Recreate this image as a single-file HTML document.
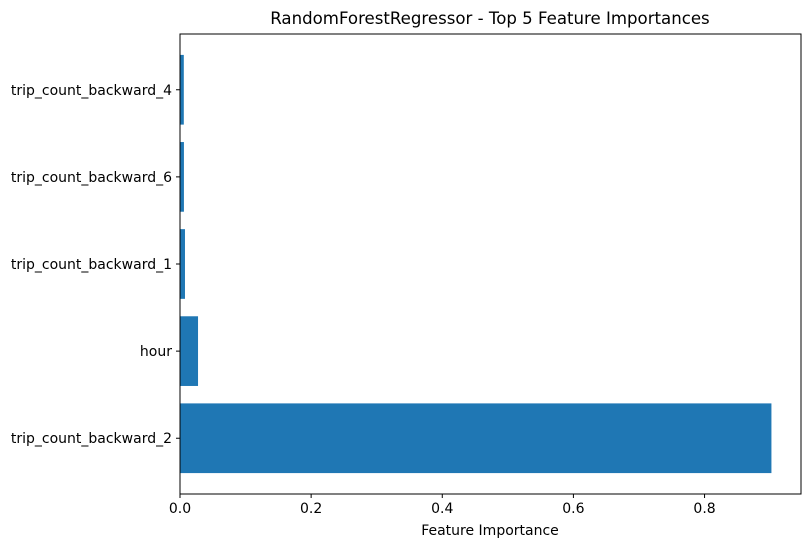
<!DOCTYPE html>
<html><head><meta charset="utf-8"><style>
body{margin:0;background:#fff;}
svg text{font-family:"DejaVu Sans","Liberation Sans",sans-serif;}
</style></head><body>
<svg id="chart" width="810" height="547" xmlns="http://www.w3.org/2000/svg">
<rect width="810" height="547" fill="#fff"/>
<text x="490" y="24" font-size="16.6" text-anchor="middle" fill="#000">RandomForestRegressor - Top 5 Feature Importances</text>
<g id="bars"></g>
<g id="xticks"></g>
<g id="yticks"></g>
<rect x="180" y="34" width="621" height="460" fill="none" stroke="#000" stroke-width="1"/>
<text x="490" y="535" font-size="14" text-anchor="middle" fill="#000">Feature Importance</text>
</svg>
<script>
const categories=["trip_count_backward_2","hour","trip_count_backward_1","trip_count_backward_6","trip_count_backward_4"];
const importances=[0.902,0.0275,0.0076,0.006,0.0058];
const xTickValues=[0,0.2,0.4,0.6,0.8];
const xTickLabels=["0.0","0.2","0.4","0.6","0.8"];

const L=180,R=801,T=34,B=494;
const xMax=Math.max(...importances)*1.05;
const xs=v=>L+(v/xMax)*(R-L);
const yMin=-0.64,yMax=categories.length-1+0.64;
const ys=v=>B-(v-yMin)/(yMax-yMin)*(B-T);
const NS="http://www.w3.org/2000/svg";
const bars=document.getElementById('bars'),xt=document.getElementById('xticks'),yt=document.getElementById('yticks');
categories.forEach((c,i)=>{
  const r=document.createElementNS(NS,'rect');
  r.setAttribute('x',xs(0));r.setAttribute('y',ys(i+0.4));
  r.setAttribute('width',xs(importances[i])-xs(0));r.setAttribute('height',ys(i-0.4)-ys(i+0.4));
  r.setAttribute('fill','#1f77b4');
  
  
  bars.appendChild(r);
  const tk=document.createElementNS(NS,'line');
  tk.setAttribute('x1',L-4);tk.setAttribute('x2',L);tk.setAttribute('y1',ys(i));tk.setAttribute('y2',ys(i));tk.setAttribute('stroke','#000');
  
  
  yt.appendChild(tk);
  const t=document.createElementNS(NS,'text');
  t.setAttribute('x',L-8);t.setAttribute('y',ys(i)+5);t.setAttribute('font-size','14');t.setAttribute('text-anchor','end');
  t.textContent=c;
  
  
  yt.appendChild(t);
});
xTickValues.forEach((v,i)=>{
  const tk=document.createElementNS(NS,'line');
  tk.setAttribute('x1',xs(v));tk.setAttribute('x2',xs(v));tk.setAttribute('y1',B);tk.setAttribute('y2',B+4);tk.setAttribute('stroke','#000');
  
  
  xt.appendChild(tk);
  const t=document.createElementNS(NS,'text');
  t.setAttribute('x',xs(v));t.setAttribute('y',B+19);t.setAttribute('font-size','14');t.setAttribute('text-anchor','middle');
  t.textContent=xTickLabels[i];
  
  
  xt.appendChild(t);
});
</script>
</body></html>
